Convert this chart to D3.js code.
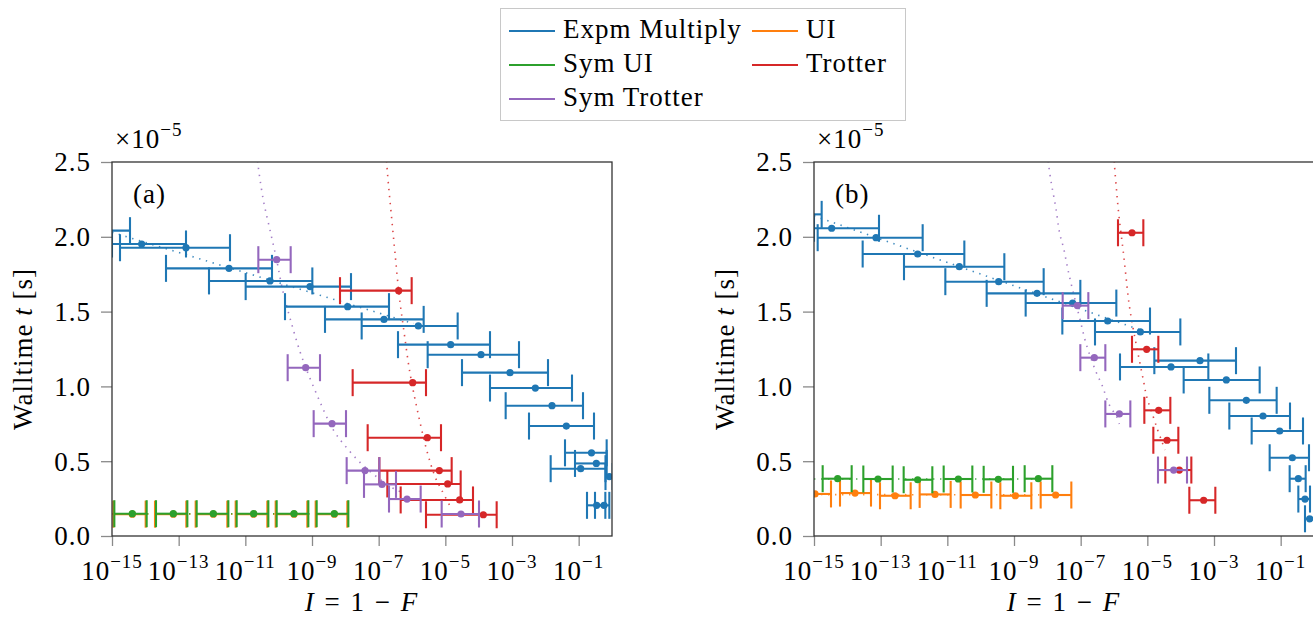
<!DOCTYPE html>
<html><head><meta charset="utf-8">
<script src="https://cdn.jsdelivr.net/npm/d3@7"></script>
<style>
body{margin:0;background:#fff;}
svg{display:block;}
svg text{font-family:"Liberation Serif","Tinos","Times New Roman","DejaVu Serif",serif !important;letter-spacing:1px;}
</style></head><body>
<svg id="chart" width="1313" height="619"></svg>
<script>
// ---- axis ticks ----
const xTickExps = [-15, -13, -11, -9, -7, -5, -3, -1];
const yTicks = [0, 0.5, 1.0, 1.5, 2.0, 2.5];

// ---- series: [log10 I (centre), walltime (×1e-5 s), log10 I low, log10 I high] ----
// panel (a)
const expmA = [
  [-15.1, 2.041, -15.6, -14.46], [-14.11, 1.952, -15.0, -12.78], [-12.78, 1.927, -14.76, -11.46],
  [-11.49, 1.789, -13.38, -10.2], [-10.26, 1.705, -12.09, -8.99], [-9.06, 1.667, -10.99, -7.83],
  [-7.93, 1.533, -9.81, -6.69], [-6.84, 1.448, -8.61, -5.65], [-5.81, 1.404, -7.51, -4.63],
  [-4.84, 1.279, -6.42, -3.66], [-3.93, 1.212, -5.53, -2.79], [-3.06, 1.092, -4.50, -1.92],
  [-2.30, 0.989, -3.66, -1.20], [-1.80, 0.871, -3.19, -0.87], [-1.37, 0.735, -2.49, -0.54],
  [-0.615, 0.556, -1.41, -0.16], [-0.47, 0.485, -1.11, -0.16], [-0.94, 0.450, -1.84, -0.195],
  [-0.08, 0.397, -0.195, 0.02], [-0.46, 0.205, -0.75, -0.20], [-0.24, 0.205, -0.51, -0.08]
];
const uiA = [
  [-14.39, 0.146, -14.96, -13.99], [-13.16, 0.146, -13.71, -12.77], [-11.96, 0.146, -12.49, -11.54],
  [-10.75, 0.146, -11.29, -10.34], [-9.54, 0.146, -10.09, -9.14], [-8.33, 0.146, -8.89, -7.94]
];
const symUiA = [
  [-14.39, 0.149, -14.93, -13.96], [-13.16, 0.149, -13.68, -12.74], [-11.96, 0.149, -12.46, -11.51],
  [-10.75, 0.149, -11.26, -10.31], [-9.54, 0.149, -10.06, -9.11], [-8.33, 0.149, -8.86, -7.91]
];
const trotterA = [
  [-6.40, 1.640, -8.16, -6.01], [-5.98, 1.025, -7.78, -5.58], [-5.54, 0.657, -7.33, -5.13],
  [-5.18, 0.437, -6.98, -4.81], [-4.93, 0.348, -6.74, -4.54], [-4.57, 0.241, -6.34, -4.17],
  [-3.86, 0.142, -5.58, -3.46]
];
const symTrotterA = [
  [-10.06, 1.847, -10.61, -9.64], [-9.19, 1.125, -9.73, -8.76], [-8.40, 0.751, -8.95, -7.98],
  [-7.41, 0.437, -7.96, -6.98], [-6.90, 0.345, -7.44, -6.48], [-6.15, 0.247, -6.69, -5.74],
  [-4.53, 0.147, -5.11, -3.99]
];
// panel (b)
const expmB = [
  [-15.1, 2.150, -15.5, -14.77], [-14.47, 2.057, -15.0, -13.05], [-13.14, 1.994, -14.89, -11.74],
  [-11.89, 1.885, -13.54, -10.49], [-10.64, 1.800, -12.30, -9.29], [-9.46, 1.700, -11.06, -8.11],
  [-8.31, 1.622, -9.82, -7.01], [-7.24, 1.557, -8.65, -5.93], [-6.19, 1.437, -7.55, -4.92],
  [-5.21, 1.364, -6.57, -4.01], [-3.42, 1.172, -4.79, -2.34], [-4.29, 1.130, -5.82, -3.17],
  [-2.63, 1.043, -3.91, -1.63], [-2.03, 0.907, -3.14, -1.12], [-1.53, 0.802, -2.54, -0.72],
  [-1.03, 0.702, -1.87, -0.33], [-0.65, 0.523, -1.33, -0.15], [-0.47, 0.383, -0.73, -0.25],
  [-0.27, 0.247, -0.47, -0.12], [-0.13, 0.115, -0.27, 0.02]
];
const uiB = [
  [-14.97, 0.281, -15.45, -14.49], [-13.77, 0.287, -14.22, -13.29], [-12.57, 0.269, -13.02, -12.10],
  [-11.37, 0.278, -11.83, -10.90], [-10.16, 0.274, -10.60, -9.68], [-8.96, 0.269, -9.41, -8.48],
  [-7.75, 0.274, -8.20, -7.28]
];
const symUiB = [
  [-14.29, 0.383, -14.74, -13.87], [-13.08, 0.381, -13.52, -12.64], [-11.89, 0.376, -12.31, -11.45],
  [-10.67, 0.381, -11.11, -10.25], [-9.47, 0.379, -9.91, -9.03], [-8.27, 0.383, -8.68, -7.85]
];
const trotterB = [
  [-5.46, 2.027, -5.88, -5.12], [-5.02, 1.248, -5.46, -4.67], [-4.66, 0.840, -5.09, -4.31],
  [-4.41, 0.640, -4.82, -4.07], [-4.04, 0.441, -4.46, -3.68], [-3.31, 0.239, -3.74, -2.96]
];
const symTrotterB = [
  [-7.10, 1.540, -7.54, -6.77], [-6.59, 1.192, -7.01, -6.26], [-5.84, 0.816, -6.26, -5.51],
  [-4.21, 0.441, -4.68, -3.81]
];

// ---- dotted fit curves: [log10 I, walltime] ----
const fitExpmA = [[-15, 2.03], [-5.95, 1.42]];
const fitUiA = [[-15, 0.146], [-8.33, 0.146]];
const fitSymUiA = [[-15, 0.149], [-8.33, 0.149]];
const fitTrotterA = [[-6.78, 2.6], [-6.76, 2.5], [-6.71, 2.358], [-6.61, 2.124], [-6.51, 1.890], [-6.38, 1.600],
  [-6.24, 1.366], [-6.06, 1.088], [-5.84, 0.842], [-5.56, 0.575], [-5.30, 0.392], [-5.11, 0.307], [-4.81, 0.180]];
const fitSymTrotterA = [[-10.67, 2.6], [-10.63, 2.5], [-10.46, 2.246], [-10.26, 2.045], [-10.06, 1.845], [-9.88, 1.644],
  [-9.61, 1.417], [-9.36, 1.232], [-9.16, 1.110], [-8.81, 0.922], [-8.36, 0.709], [-7.96, 0.590],
  [-7.51, 0.481], [-7.06, 0.396], [-6.51, 0.312], [-6.30, 0.294]];
const fitExpmB = [[-15, 2.14], [-5.24, 1.38]];
const fitUiB = [[-15, 0.277], [-7.75, 0.275]];
const fitSymUiB = [[-15, 0.381], [-8.27, 0.381]];
const fitTrotterB = [[-6.01, 2.6], [-5.99, 2.495], [-5.92, 2.301], [-5.86, 2.157], [-5.79, 2.023], [-5.71, 1.878],
  [-5.64, 1.733], [-5.57, 1.589], [-5.48, 1.455], [-5.36, 1.310], [-5.24, 1.176], [-5.11, 1.031],
  [-5.02, 0.931], [-4.84, 0.809], [-4.69, 0.709], [-4.56, 0.630], [-4.47, 0.575]];
const fitSymTrotterB = [[-8.0, 2.6], [-7.97, 2.5], [-7.88, 2.358], [-7.75, 2.201], [-7.63, 2.023], [-7.51, 1.923],
  [-7.39, 1.789], [-7.24, 1.644], [-7.04, 1.466], [-6.84, 1.288], [-6.54, 1.098], [-6.36, 1.009],
  [-6.14, 0.876], [-5.92, 0.797], [-5.84, 0.749]];

const seriesNames = ["Expm Multiply", "UI", "Sym UI", "Trotter", "Sym Trotter"];
const seriesColors = ["#1f77b4", "#ff7f0e", "#2ca02c", "#d62728", "#9467bd"];
const panelLabels = ["(a)", "(b)"];

const panels = [
  {label: panelLabels[0], left: 112, series: [expmA, uiA, symUiA, trotterA, symTrotterA],
   fits: [fitExpmA, fitUiA, fitSymUiA, fitTrotterA, fitSymTrotterA]},
  {label: panelLabels[1], left: 814, series: [expmB, uiB, symUiB, trotterB, symTrotterB],
   fits: [fitExpmB, fitUiB, fitSymUiB, fitTrotterB, fitSymTrotterB]}
];

const svg = d3.select("#chart");
const W = 500, TOP = 162, BOT = 536;
const FS = 27, SUP = 19;
const capH = 13.5;

panels.forEach((p, pi) => {
  const x = d3.scaleLog().domain([1e-15, 1]).range([p.left, p.left + W]);
  const y = d3.scaleLinear().domain([0, 2.5]).range([BOT, TOP]);
  const X = e => x(Math.pow(10, e));
  const g = svg.append("g");

  const clipId = "clip" + pi;
  svg.append("defs").append("clipPath").attr("id", clipId)
    .append("rect").attr("x", p.left).attr("y", TOP).attr("width", W).attr("height", BOT - TOP);

  // axes ticks
  const ya = g.append("g").attr("transform", `translate(${p.left},0)`)
    .call(d3.axisLeft(y).tickValues(yTicks).tickFormat(d3.format(".1f")).tickSize(11).tickPadding(10));
  ya.attr("font-family", null);
  ya.select(".domain").remove();
  ya.selectAll("line").attr("stroke", "#8a8a8a").attr("stroke-width", 1.3);
  ya.selectAll("text").attr("font-size", FS).attr("fill", "#000").attr("dy", "0.33em");

  const xa = g.append("g").attr("transform", `translate(0,${BOT})`)
    .call(d3.axisBottom(x).tickValues(xTickExps.map(e => Math.pow(10, e))).tickFormat("").tickSize(10));
  xa.select(".domain").remove();
  xa.selectAll("line").attr("stroke", "#8a8a8a").attr("stroke-width", 1.3);
  xTickExps.forEach(e => {
    const t = g.append("text").attr("x", X(e)).attr("y", 580).attr("text-anchor", "middle").attr("font-size", FS);
    t.append("tspan").text("10");
    t.append("tspan").attr("font-size", SUP).attr("dy", -12).text("\u2212" + Math.abs(e));
  });

  // multiplier
  const m = g.append("text").attr("x", p.left + 3).attr("y", 148).attr("font-size", FS);
  m.append("tspan").text("\u00d710");
  m.append("tspan").attr("font-size", SUP).attr("dy", -12).text("\u22125");

  // axis labels
  const yl = g.append("text").attr("transform", `translate(${p.left - 80},${(TOP + BOT) / 2}) rotate(-90)`)
    .attr("text-anchor", "middle").attr("font-size", FS);
  yl.append("tspan").text("Walltime ");
  yl.append("tspan").attr("font-style", "italic").text("t");
  yl.append("tspan").text(" [s]");

  const xl = g.append("text").attr("x", p.left + W / 2).attr("y", 611).attr("text-anchor", "middle")
    .attr("font-size", FS).style("letter-spacing", "2px");
  xl.append("tspan").attr("font-style", "italic").text("I");
  xl.append("tspan").text(" = 1 \u2212 ");
  xl.append("tspan").attr("font-style", "italic").text("F");

  // plot content
  const c = g.append("g").attr("clip-path", `url(#${clipId})`);
  const lineLin = d3.line().x(d => X(d[0])).y(d => y(d[1]));
  const lineCurve = d3.line().x(d => X(d[0])).y(d => y(d[1])).curve(d3.curveCatmullRom);

  p.fits.forEach((f, si) => {
    c.append("path").attr("d", (f.length > 2 ? lineCurve : lineLin)(f))
      .attr("fill", "none").attr("stroke", seriesColors[si]).attr("stroke-width", 1.6)
      .attr("stroke-dasharray", "1.4,5.6").attr("opacity", 0.85);
  });

  p.series.forEach((s, si) => {
    const col = seriesColors[si];
    const sg = c.append("g").attr("stroke", col).attr("stroke-width", 2.1);
    sg.selectAll("line.h").data(s).join("line").attr("class", "h")
      .attr("x1", d => X(d[2])).attr("x2", d => X(d[3])).attr("y1", d => y(d[1])).attr("y2", d => y(d[1]));
    sg.selectAll("line.l").data(s).join("line").attr("class", "l")
      .attr("x1", d => X(d[2])).attr("x2", d => X(d[2])).attr("y1", d => y(d[1]) - capH).attr("y2", d => y(d[1]) + capH);
    sg.selectAll("line.r").data(s).join("line").attr("class", "r")
      .attr("x1", d => X(d[3])).attr("x2", d => X(d[3])).attr("y1", d => y(d[1]) - capH).attr("y2", d => y(d[1]) + capH);
    c.append("g").selectAll("circle").data(s).join("circle")
      .attr("cx", d => X(d[0])).attr("cy", d => y(d[1])).attr("r", 3.6).attr("fill", col);
  });

  // frame
  g.append("rect").attr("x", p.left).attr("y", TOP).attr("width", W).attr("height", BOT - TOP)
    .attr("fill", "none").attr("stroke", "#333").attr("stroke-width", 1.3);

  g.append("text").attr("x", p.left + 21).attr("y", 203).attr("font-size", FS).text(p.label);
});

// legend
const lg = svg.append("g");
lg.append("rect").attr("x", 500.5).attr("y", 8.5).attr("width", 405).attr("height", 112)
  .attr("fill", "#fff").attr("stroke", "#c8c8c8").attr("stroke-width", 1);
const legendPos = [[509, 31], [752, 31], [509, 65], [752, 65], [509, 99]];
seriesNames.forEach((n, i) => {
  const [lx, ly] = legendPos[i];
  lg.append("line").attr("x1", lx).attr("x2", lx + 46).attr("y1", ly).attr("y2", ly)
    .attr("stroke", seriesColors[i]).attr("stroke-width", 2);
  lg.append("text").attr("x", lx + 54).attr("y", ly + 7).attr("font-size", FS).text(n);
});
</script>
</body></html>
